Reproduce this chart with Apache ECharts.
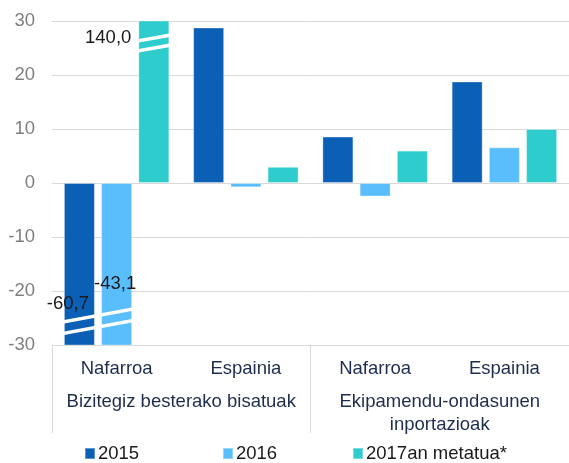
<!DOCTYPE html>
<html>
<head>
<meta charset="utf-8">
<script src="https://cdn.jsdelivr.net/npm/echarts@6/dist/echarts.min.js"></script>
<style>
  html, body { margin: 0; padding: 0; background: #fff; }
  #chart { width: 569px; height: 463px; }
</style>
</head>
<body>
<div id="chart"></div>
<script>
const categories = ['Nafarroa', 'Espainia', 'Nafarroa', 'Espainia']
const groups = ['Bizitegiz besterako bisatuak', 'Ekipamendu-ondasunen\ninportazioak']
const seriesNames = ['2015', '2016', '2017an metatua*']
const values2015 = [-60.7, 28.8, 8.6, 18.8]
const values2016 = [-43.1, -0.8, -2.5, 6.6]
const values2017 = [140.0, 3.0, 6.0, 10.0]
const yTicks = { min: -30, max: 30, interval: 10 }

const colors = ['#0b5fb4', '#5bbefc', '#2ecccc']
const allValues = [values2015, values2016, values2017]
const barPct = 0.24
const gapPct = 0.2
const font = 'Liberation Sans, Arial, sans-serif'
const fs = 18.5

// label offsets for the bars that run off the axis (relative to the clipped bar)
const labelPlace = [
  { position: [4, 121], align: 'center' },
  { position: [14, 101], align: 'center' },
  { position: [-7, 17], align: 'right' }
]

function fmt (v) {
  return v.toFixed(1).replace('.', ',')
}

function barData (values, si) {
  return values.map(v => {
    if (v <= yTicks.max && v >= yTicks.min) return v
    return {
      value: v,
      label: {
        show: true,
        formatter: fmt(v),
        position: labelPlace[si].position,
        align: labelPlace[si].align,
        verticalAlign: 'middle',
        color: '#1a1a1a',
        fontSize: fs,
        fontFamily: font
      }
    }
  })
}

// find runs of clipped bars per category: [cat, firstSeries, lastSeries, dir]
const breaks = []
categories.forEach((c, ci) => {
  [1, -1].forEach(dir => {
    const idx = allValues
      .map((arr, si) => ((dir > 0 ? arr[ci] > yTicks.max : arr[ci] < yTicks.min) ? si : -1))
      .filter(i => i >= 0)
    if (idx.length) breaks.push([ci, idx[0], idx[idx.length - 1], dir])
  })
})

function renderBreak (params, api) {
  const ci = api.value(0)
  const first = api.value(1)
  const last = api.value(2)
  const dir = api.value(3)
  const band = api.size([1, 0])[0]
  const cx = api.coord([ci, 0])[0]
  const w = band * barPct
  const step = w * (1 + gapPct)
  const x0 = cx + (first - 1) * step - w / 2
  const x1 = cx + (last - 1) * step + w / 2
  const yEnd = api.coord([ci, dir > 0 ? yTicks.max : yTicks.min])[1]
  const offsets = dir > 0 ? [20, 30] : [-23, -11.5]
  const slope = 0.19
  const t = 3.6
  const rise = slope * (x1 - x0)
  return {
    type: 'group',
    children: offsets.map(o => {
      const yc = yEnd + o
      return {
        type: 'polygon',
        shape: {
          points: [
            [x0 - 1, yc - t / 2],
            [x1 + 1, yc - t / 2 - rise],
            [x1 + 1, yc + t / 2 - rise],
            [x0 - 1, yc + t / 2]
          ]
        },
        style: { fill: '#fff' }
      }
    })
  }
}

const chart = echarts.init(document.getElementById('chart'), null, { renderer: 'canvas' })

const legends = seriesNames.map((name, i) => ({
  data: [name],
  left: [84, 222, 352][i],
  top: 444,
  padding: 0,
  icon: 'rect',
  itemWidth: 10,
  itemHeight: 11,
  selectedMode: false,
  textStyle: { fontSize: fs, color: '#1a1a1a', fontFamily: font, padding: [0, 0, 0, -2] }
}))

chart.setOption({
  animation: false,
  backgroundColor: '#fff',
  legend: legends,
  grid: { left: 52, right: -2, top: 21, bottom: 118, containLabel: false },
  xAxis: [
    {
      type: 'category',
      data: categories,
      axisLine: { lineStyle: { color: '#d9d9d9', width: 1 } },
      axisTick: { show: false },
      axisLabel: { margin: 14, fontSize: fs, color: '#1f2d4d', fontFamily: font, interval: 0 }
    },
    {
      type: 'category',
      data: groups,
      position: 'bottom',
      axisLine: { show: false },
      axisTick: { show: true, length: 88, alignWithLabel: false, lineStyle: { color: '#d9d9d9' } },
      axisLabel: { margin: 45, fontSize: fs, lineHeight: 23, color: '#1f2d4d', fontFamily: font, interval: 0 },
      splitLine: { show: false }
    }
  ],
  yAxis: {
    type: 'value',
    min: yTicks.min,
    max: yTicks.max,
    interval: yTicks.interval,
    axisLine: { show: false },
    axisTick: { show: false },
    splitLine: { lineStyle: { color: '#d9d9d9', width: 1 } },
    axisLabel: { margin: 17, fontSize: fs, color: '#7f7f7f', fontFamily: font }
  },
  series: [
    ...allValues.map((values, si) => ({
      name: seriesNames[si],
      type: 'bar',
      xAxisIndex: 0,
      data: barData(values, si),
      barWidth: (barPct * 100) + '%',
      barGap: (gapPct * 100) + '%',
      clip: true,
      itemStyle: { color: colors[si], borderColor: 'rgba(255,255,255,0.35)', borderWidth: 1 }
    })),
    {
      type: 'custom',
      xAxisIndex: 0,
      renderItem: renderBreak,
      data: breaks,
      encode: { x: 0 },
      z: 5,
      silent: true
    }
  ]
})
</script>
</body>
</html>
